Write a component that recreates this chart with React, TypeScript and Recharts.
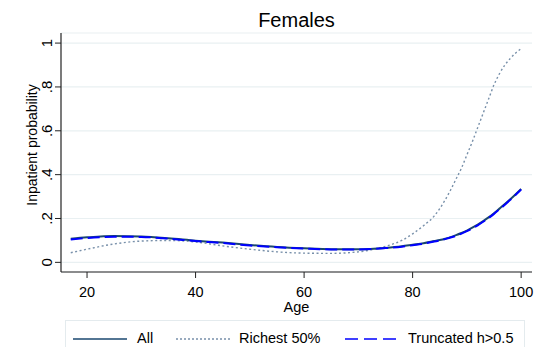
import React from "react";
import { LineChart, Line, XAxis, YAxis, CartesianGrid, Legend } from "recharts";

const ages = [17, 20, 25, 30, 35, 40, 45, 50, 55, 60, 65, 70, 75, 78, 80, 82, 84, 85, 86, 87, 88, 89, 90, 91, 92, 93, 94, 95, 96, 97, 98, 99, 100];
const allValues = [
  0.108, 0.114, 0.12, 0.118, 0.11, 0.099, 0.09, 0.079, 0.07, 0.064, 0.06, 0.06, 0.066, 0.073, 0.08, 0.087,
  0.097, 0.102, 0.108, 0.115, 0.124, 0.134, 0.145, 0.158, 0.172, 0.188, 0.205, 0.224, 0.245, 0.266, 0.288,
  0.311, 0.335,
];
const richestValues = [
  0.044, 0.06, 0.084, 0.097, 0.1, 0.093, 0.075, 0.06, 0.048, 0.042, 0.041, 0.048, 0.073, 0.1, 0.13, 0.167,
  0.212, 0.245, 0.285, 0.33, 0.38, 0.43, 0.49, 0.55, 0.615, 0.68, 0.745, 0.81, 0.86, 0.9, 0.93, 0.955, 0.975,
];
const truncatedValues = [
  0.104, 0.111, 0.117, 0.116, 0.108, 0.097, 0.088, 0.077, 0.069, 0.063, 0.059, 0.059, 0.065, 0.071, 0.078,
  0.085, 0.095, 0.1, 0.106, 0.113, 0.121, 0.131, 0.142, 0.155, 0.169, 0.185, 0.202, 0.221, 0.242, 0.263,
  0.285, 0.308, 0.332,
];
const xTicks = [20, 40, 60, 80, 100];
const yTicks = [0, 0.2, 0.4, 0.6, 0.8, 1];
const yTickLabels = ["0", ".2", ".4", ".6", ".8", "1"];

const data = ages.map((age, i) => ({
  age,
  all: allValues[i],
  richest: richestValues[i],
  truncated: truncatedValues[i],
}));

const FONT = "'Liberation Sans', Arial, sans-serif";
const NAVY = "#1a476f";
const GREYBLUE = "#7890aa";
const BLUE = "#0000ff";

const YTick = (props: any) => {
  const { y, payload } = props;
  const idx = yTicks.indexOf(payload.value);
  return (
    <text
      x={52}
      y={y}
      transform={`rotate(-90, 52, ${y})`}
      textAnchor="middle"
      fontSize={15}
      fontFamily={FONT}
      fill="#000"
    >
      {idx >= 0 ? yTickLabels[idx] : payload.value}
    </text>
  );
};

const XTick = (props: any) => {
  const { x, payload } = props;
  return (
    <text x={x} y={296.5} textAnchor="middle" fontSize={14.5} fontFamily={FONT} fill="#000">
      {payload.value}
    </text>
  );
};

const LegendBox = () => {
  const item = (left: number, label: string, stroke: string, dash?: string, width = 1.5) => (
    <>
      <svg style={{ position: "absolute", left, top: 16 }} width={54} height={4}>
        <line x1={0} y1={2} x2={54} y2={2} stroke={stroke} strokeWidth={width} strokeDasharray={dash} />
      </svg>
      <span
        style={{
          position: "absolute",
          left: left + (label === "All" ? 64 : 63),
          top: 9,
          fontSize: 14.5,
          fontFamily: FONT,
          lineHeight: "17px",
          whiteSpace: "nowrap",
          color: "#000",
        }}
      >
        {label}
      </span>
    </>
  );
  return (
    <div
      style={{
        position: "relative",
        width: 460,
        height: 30,
        border: "1px solid #e4ebee",
        background: "#fff",
        boxSizing: "border-box",
      }}
    >
      {item(7, "All", NAVY)}
      {item(110, "Richest 50%", GREYBLUE, "2 2", 1.3)}
      {item(279, "Truncated h>0.5", BLUE, "13 6", 1.6)}
    </div>
  );
};

export default function App() {
  return (
    <div style={{ position: "absolute", left: 0, top: 0, width: 555, height: 347, background: "#fff", overflow: "hidden" }}>
      <LineChart width={555} height={347} data={data} margin={{ top: 33, right: 23, left: 0, bottom: 0 }}>
        <CartesianGrid horizontal vertical={false} stroke="#e9f0f2" strokeWidth={1.2} />
        <XAxis
          dataKey="age"
          type="number"
          domain={[15.2, 102]}
          ticks={xTicks}
          allowDataOverflow
          height={45}
          tick={<XTick />}
          tickSize={6}
          tickLine={{ stroke: "#222" }}
          axisLine={{ stroke: "#222", strokeWidth: 1.2 }}
        />
        <YAxis
          type="number"
          domain={[-0.044, 1.046]}
          ticks={yTicks}
          allowDataOverflow
          width={61}
          tick={<YTick />}
          tickSize={6}
          tickLine={{ stroke: "#222" }}
          axisLine={{ stroke: "#222", strokeWidth: 1.2 }}
        />
        <Legend
          verticalAlign="bottom"
          content={<LegendBox />}
          wrapperStyle={{ left: 65, width: 460, bottom: -3 }}
        />
        <Line
          dataKey="richest"
          type="monotone"
          stroke={GREYBLUE}
          strokeWidth={1.4}
          strokeDasharray="2 2.5"
          dot={false}
          isAnimationActive={false}
        />
        <Line
          dataKey="all"
          type="monotone"
          stroke={NAVY}
          strokeWidth={2}
          dot={false}
          isAnimationActive={false}
        />
        <Line
          dataKey="truncated"
          type="monotone"
          stroke={BLUE}
          strokeWidth={2}
          strokeDasharray="12 5"
          dot={false}
          isAnimationActive={false}
        />
        <text x={296.5} y={26.5} textAnchor="middle" fontSize={20} fontFamily={FONT} fill="#000">
          Females
        </text>
        <text
          x={37}
          y={145}
          transform="rotate(-90, 37, 145)"
          textAnchor="middle"
          fontSize={14}
          fontFamily={FONT}
          fill="#000"
        >
          Inpatient probability
        </text>
        <text x={296.5} y={311.5} textAnchor="middle" fontSize={14.5} fontFamily={FONT} fill="#000">
          Age
        </text>
      </LineChart>
    </div>
  );
}
